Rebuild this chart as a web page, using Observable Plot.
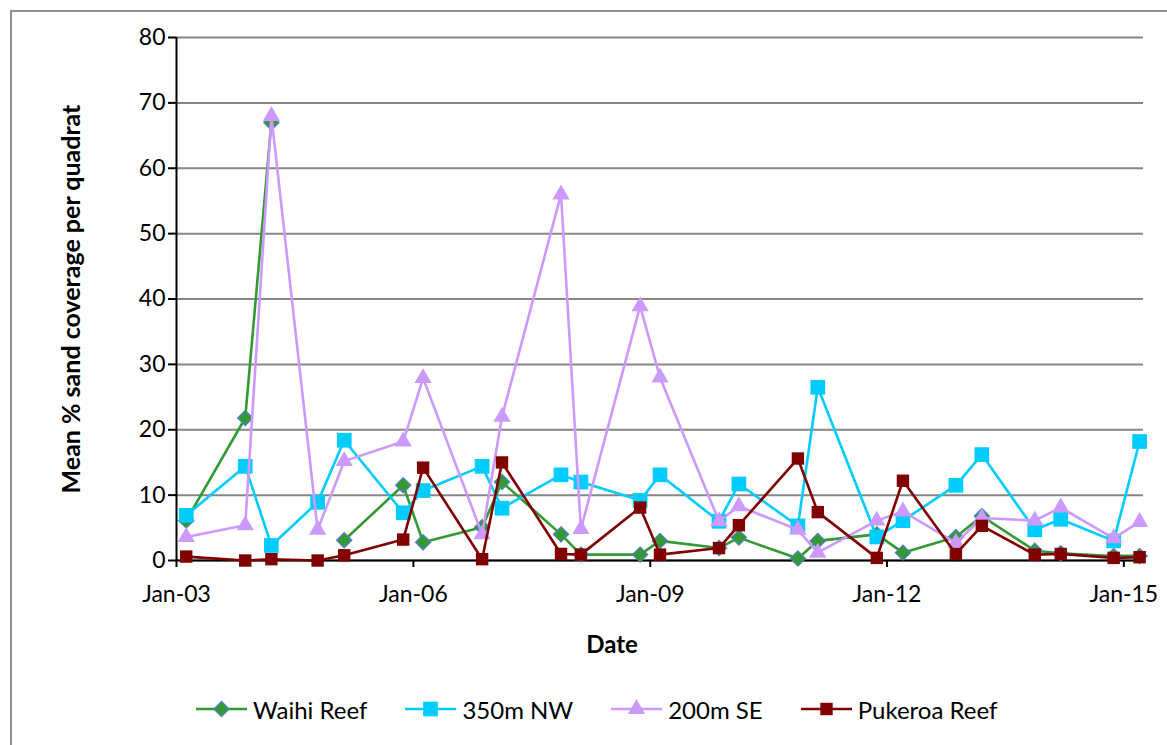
<!DOCTYPE html>
<html>
<head>
<meta charset="utf-8">
<script src="https://cdn.jsdelivr.net/npm/d3@7"></script>
<script src="https://cdn.jsdelivr.net/npm/@observablehq/plot@0.6"></script>
<style>
  html, body { margin: 0; padding: 0; background: #fff; width: 1167px; height: 745px; overflow: hidden; }
  #frame { position: absolute; left: 10px; top: 10px; width: 1300px; height: 900px;
           border-left: 2px solid #8f8f8f; border-top: 2px solid #8f8f8f; }
  #chart { position: absolute; left: 0; top: 0; }
  #legend { position: absolute; left: 196px; top: 694px; display: flex; align-items: center;
            font-family: Lato, sans-serif; font-size: 24px; color: #000; }
  .item { display: flex; align-items: center; margin-right: 38px; }
  .item svg { display: block; }
  .item span { margin-left: 6px; }
</style>
</head>
<body>
<div id="frame"></div>
<div id="chart"></div>
<div id="legend"></div>
<script>
const dates = ["2003-02-15","2003-11-15","2004-03-15","2004-10-15","2005-02-15","2005-11-15","2006-02-15","2006-11-15","2007-02-15","2007-11-15","2008-02-15","2008-11-15","2009-02-15","2009-11-15","2010-02-15","2010-11-15","2011-02-15","2011-11-15","2012-03-15","2012-11-15","2013-03-15","2013-11-15","2014-03-15","2014-11-15","2015-03-15"];
const waihiReef = [6.1, 21.8, 67, null, 3.1, 11.5, 2.8, 5.1, 12.0, 4.0, 0.9, 0.9, 3.0, 1.9, 3.5, 0.3, 3.0, 4.0, 1.2, 3.6, 6.8, 1.5, 1.1, 0.7, 0.7];
const nw350 = [6.9, 14.4, 2.3, 8.9, 18.4, 7.3, 10.7, 14.4, 8.0, 13.1, 12.0, 9.2, 13.1, 6.0, 11.7, 5.3, 26.5, 3.6, 6.1, 11.5, 16.2, 4.7, 6.3, 3.0, 18.2];
const se200 = [3.6, 5.4, 68, 4.7, 15.2, 18.2, 27.9, 4.0, 22, 56, 4.8, 38.9, 28, 6.0, 8.3, 4.7, 1.2, 6.1, 7.5, 2.7, 6.5, 6.1, 8.1, 3.4, 5.9];
const pukeroaReef = [0.6, 0, 0.2, 0, 0.8, 3.2, 14.2, 0.2, 15.0, 1.0, 0.9, 8.1, 0.9, 1.9, 5.4, 15.6, 7.4, 0.4, 12.2, 1.0, 5.3, 0.9, 1.0, 0.4, 0.5];
const xTicks = ["2003-01-01","2006-01-01","2009-01-01","2012-01-01","2015-01-01"];
const yTicks = [0, 10, 20, 30, 40, 50, 60, 70, 80];
const xDomain = ["2003-01-01", "2015-04-02"];

const parse = d3.utcParse("%Y-%m-%d");
const series = [
  {name: "Waihi Reef", values: waihiReef, color: "#339933", symbol: "diamond2", r: 6.8, markStroke: "#4f81bd", markFill: "#339933"},
  {name: "350m NW", values: nw350, color: "#00ccff", symbol: "square", r: 8.3, markStroke: "none", markFill: "#00ccff"},
  {name: "200m SE", values: se200, color: "#cc99ff", symbol: "triangle", r: 6.4, markStroke: "none", markFill: "#cc99ff"},
  {name: "Pukeroa Reef", values: pukeroaReef, color: "#800000", symbol: "square", r: 7.0, markStroke: "none", markFill: "#800000"}
];
const tables = series.map(s => dates.map((d, i) => ({date: parse(d), value: s.values[i] == null ? NaN : s.values[i]})));

const marks = [
  Plot.gridY(yTicks, {stroke: "#868686", strokeWidth: 2, strokeOpacity: 1}),
  Plot.ruleX([parse(xDomain[0])], {stroke: "#000", strokeWidth: 2}),
  Plot.ruleY([0], {stroke: "#000", strokeWidth: 2}),
  Plot.axisY(yTicks, {tickSize: 8, tickPadding: 3, stroke: "#000", strokeWidth: 2, fontSize: 23,
    label: "Mean % sand coverage per quadrat", labelAnchor: "center", labelArrow: "none", labelOffset: 114}),
  Plot.axisX(xTicks.map(parse), {tickSize: 7, tickPadding: 18, stroke: "#000", strokeWidth: 2, fontSize: 23,
    tickFormat: d3.utcFormat("%b-%y"), label: null}),
  Plot.text(["Date"], {frameAnchor: "bottom", dx: -48, dy: 92, fontWeight: "bold", fontSize: 24})
];
series.forEach((s, k) => {
  marks.push(Plot.line(tables[k], {x: "date", y: "value", stroke: s.color, strokeWidth: 2.6}));
  marks.push(Plot.dot(tables[k], {x: "date", y: "value", symbol: s.symbol, r: s.r, fill: s.markFill, stroke: s.markStroke, strokeWidth: 1.3}));
});

const chart = Plot.plot({
  width: 1167,
  height: 680,
  marginLeft: 176,
  marginRight: 24,
  marginTop: 37,
  marginBottom: 120,
  style: {fontFamily: "Lato, sans-serif", fontSize: "23px", color: "#000", background: "transparent", overflow: "visible"},
  x: {type: "utc", domain: xDomain.map(parse)},
  y: {domain: [0, 80]},
  marks
});
// bold, larger y-axis title
chart.querySelectorAll("g[aria-label='y-axis label']").forEach(el => {
  el.setAttribute("font-weight", "bold");
  el.setAttribute("font-size", "25");
});
document.getElementById("chart").appendChild(chart);

const legend = document.getElementById("legend");
const symGen = {diamond2: d3.symbolDiamond2, square: d3.symbolSquare, triangle: d3.symbolTriangle};
series.forEach(s => {
  const item = document.createElement("div");
  item.className = "item";
  const svg = d3.create("svg").attr("width", 51).attr("height", 30);
  svg.append("line").attr("x1", 0).attr("x2", 51).attr("y1", 15).attr("y2", 15).attr("stroke", s.color).attr("stroke-width", 2.6);
  svg.append("path").attr("transform", "translate(25.5,15)")
    .attr("d", d3.symbol(symGen[s.symbol], Math.PI * s.r * s.r)())
    .attr("fill", s.markFill).attr("stroke", s.markStroke).attr("stroke-width", 1.3);
  item.appendChild(svg.node());
  const span = document.createElement("span");
  span.textContent = s.name;
  item.appendChild(span);
  legend.appendChild(item);
});
</script>
</body>
</html>
